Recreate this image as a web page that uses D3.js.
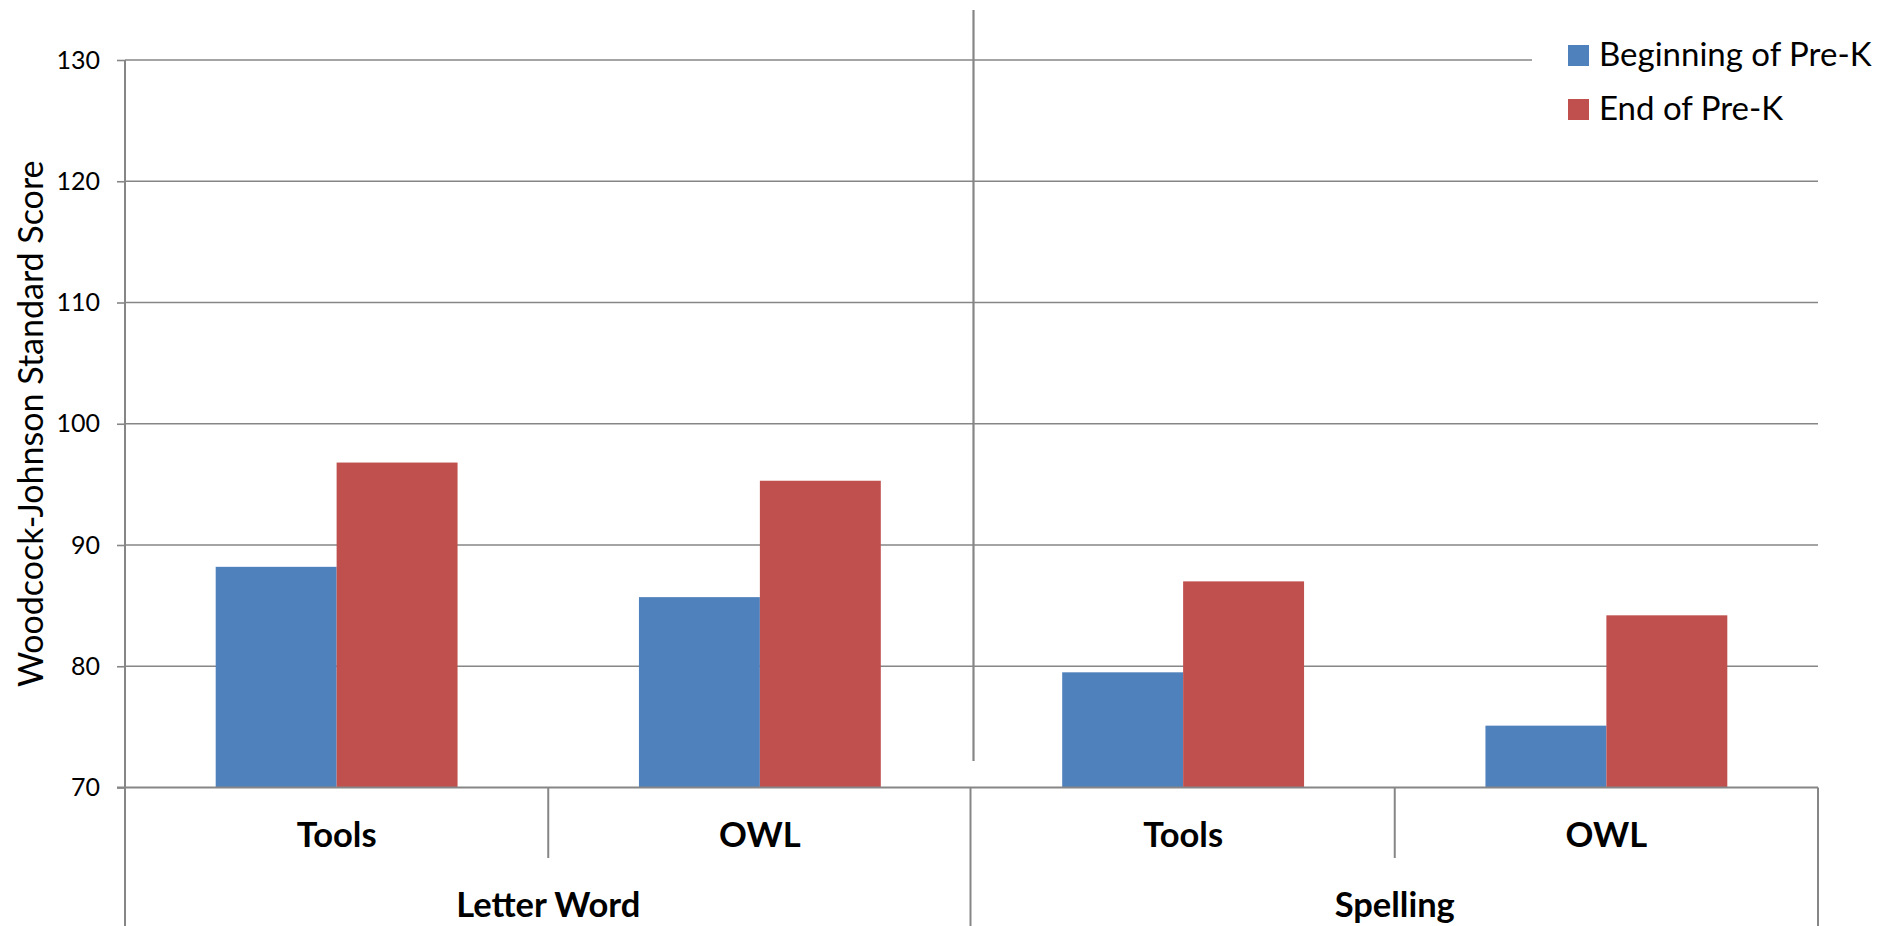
<!DOCTYPE html>
<html>
<head>
<meta charset="utf-8">
<script src="https://cdn.jsdelivr.net/npm/d3@7/dist/d3.min.js"></script>
<style>
  html, body { margin: 0; padding: 0; background: #fff; }
  svg { display: block; }
  text { font-family: Lato, "Open Sans", sans-serif; fill: #000; }
</style>
</head>
<body>
<svg id="chart" width="1901" height="926"></svg>
<script>
// Woodcock-Johnson scores, beginning vs end of Pre-K
const subCategories = ["Tools", "OWL", "Tools", "OWL"];
const groups = ["Letter Word", "Spelling"];
const seriesNames = ["Beginning of Pre-K", "End of Pre-K"];
const beginningValues = [88.2, 85.7, 79.5, 75.1];
const endValues = [96.8, 95.3, 87.0, 84.2];
const yTicks = [70, 80, 90, 100, 110, 120, 130];
const colors = ["#4F81BD", "#C0504D"];

const W = 1901, H = 926;
const plotLeft = 125, plotRight = 1818, plotTop = 60, plotBottom = 787.5;
const gridColor = "#868686";

const svg = d3.select("#chart");

const y = d3.scaleLinear().domain([70, 130]).range([plotBottom, plotTop]);
const gap = 1.5 / 3.5;
const x0 = d3.scaleBand().domain(d3.range(subCategories.length))
  .range([plotLeft, plotRight]).paddingInner(gap).paddingOuter(gap / 2);
const x1 = d3.scaleBand().domain(d3.range(seriesNames.length))
  .range([0, x0.bandwidth()]);
const step = x0.step();

// horizontal gridlines with short outer ticks
const yAxis = svg.append("g").attr("transform", `translate(${plotLeft},0)`)
  .call(d3.axisLeft(y).tickValues(yTicks).tickSize(8).tickPadding(17));
yAxis.select(".domain").remove();
yAxis.selectAll(".tick line").attr("stroke", gridColor).attr("stroke-width", 1.6);
yAxis.selectAll(".tick text").attr("font-size", 25).attr("font-family", "Lato").attr("fill", "#000");
svg.append("g").selectAll("line").data(yTicks.filter(d => d > 70)).join("line")
  .attr("x1", plotLeft).attr("x2", plotRight)
  .attr("y1", d => y(d)).attr("y2", d => y(d))
  .attr("stroke", gridColor).attr("stroke-width", 1.6);

// bars
const table = subCategories.map((c, i) => ({ i, values: [beginningValues[i], endValues[i]] }));
const barG = svg.append("g");
table.forEach(row => {
  row.values.forEach((v, s) => {
    barG.append("rect")
      .attr("x", x0(row.i) + x1(s))
      .attr("y", y(v))
      .attr("width", x1.bandwidth())
      .attr("height", y(70) - y(v))
      .attr("fill", colors[s]);
  });
});

// group divider drawn across the plot
const groupEdge = plotLeft + step * 2;
svg.append("line")
  .attr("x1", groupEdge + 2).attr("x2", groupEdge + 2)
  .attr("y1", 10).attr("y2", 761)
  .attr("stroke", gridColor).attr("stroke-width", 2.2);

// value axis line and category axis line
svg.append("line").attr("x1", plotLeft).attr("x2", plotLeft).attr("y1", plotTop).attr("y2", H)
  .attr("stroke", gridColor).attr("stroke-width", 2);
svg.append("line").attr("x1", plotLeft - 8).attr("x2", plotRight).attr("y1", plotBottom).attr("y2", plotBottom)
  .attr("stroke", gridColor).attr("stroke-width", 2);

// multi-level category separators
const sepG = svg.append("g").attr("stroke", gridColor).attr("stroke-width", 2);
[1, 3].forEach(k => sepG.append("line")
  .attr("x1", plotLeft + step * k).attr("x2", plotLeft + step * k)
  .attr("y1", plotBottom).attr("y2", 858));
[2, 4].forEach(k => sepG.append("line")
  .attr("x1", plotLeft + step * k - (k === 2 ? 1 : 0)).attr("x2", plotLeft + step * k - (k === 2 ? 1 : 0))
  .attr("y1", plotBottom).attr("y2", H));

// category labels
svg.append("g").selectAll("text").data(subCategories).join("text")
  .attr("x", (d, i) => x0(i) + x0.bandwidth() / 2)
  .attr("y", 847)
  .attr("text-anchor", "middle")
  .attr("font-size", 34.5).attr("font-weight", "bold")
  .text(d => d);
svg.append("g").selectAll("text").data(groups).join("text")
  .attr("x", (d, i) => plotLeft + step * (2 * i + 1))
  .attr("y", 916.5)
  .attr("text-anchor", "middle")
  .attr("font-size", 34.5).attr("font-weight", "bold")
  .text(d => d);

// value axis title
svg.append("text")
  .attr("transform", `translate(43,${(plotTop + plotBottom) / 2}) rotate(-90)`)
  .attr("text-anchor", "middle")
  .attr("font-size", 34)
  .text("Woodcock-Johnson Standard Score");

// legend (white box sits over the top gridline)
const legend = svg.append("g");
legend.append("rect").attr("x", 1532).attr("y", 20).attr("width", W - 1532).attr("height", 120).attr("fill", "#fff");
seriesNames.forEach((name, i) => {
  const ly = 45 + i * 54;
  legend.append("rect").attr("x", 1568).attr("y", ly).attr("width", 21).attr("height", 21).attr("fill", colors[i]);
  legend.append("text").attr("x", 1599).attr("y", ly + 21).attr("font-size", 33).text(name);
});
</script>
</body>
</html>
